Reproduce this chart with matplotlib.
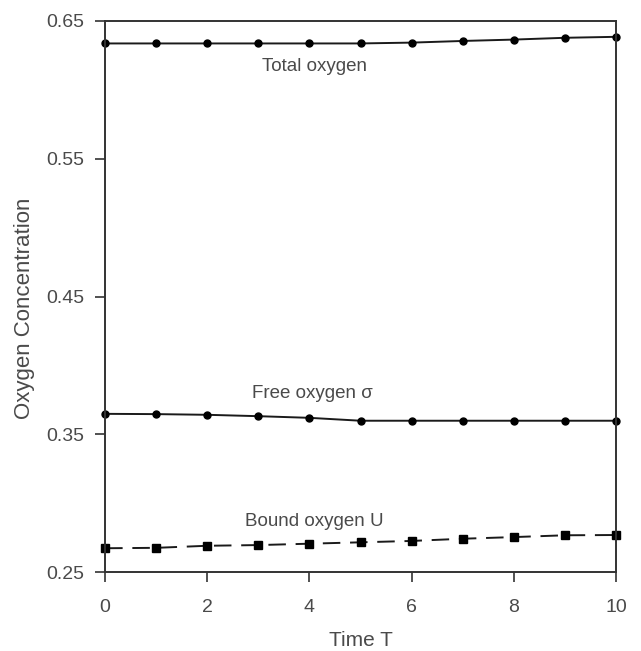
import numpy as np
import matplotlib
matplotlib.use('Agg')
import matplotlib.pyplot as plt

plt.rcParams['font.family'] = ['Liberation Sans', 'DejaVu Sans']

time_t = [0, 1, 2, 3, 4, 5, 6, 7, 8, 9, 10]
total_oxygen = [0.6336, 0.6336, 0.6336, 0.6336, 0.6336, 0.6336,
                0.6342, 0.6354, 0.6364, 0.6377, 0.6384]
free_oxygen = [0.3649, 0.3647, 0.3642, 0.3632, 0.3620, 0.3599,
               0.3599, 0.3599, 0.3599, 0.3599, 0.3599]
bound_oxygen = [0.2674, 0.2677, 0.2692, 0.2697, 0.2707, 0.2717,
                0.2727, 0.2743, 0.2755, 0.2768, 0.2770]

xticks = [0, 2, 4, 6, 8, 10]
yticks = [0.25, 0.35, 0.45, 0.55, 0.65]

txt_color = '#4a4a4a'
line_color = '#1a1a1a'

fig = plt.figure(figsize=(6.41, 6.51), dpi=100)
ax = fig.add_axes([0.164, 0.121, 0.797, 0.847])

ax.plot(time_t, total_oxygen, color=line_color, lw=1.4, marker='o',
        ms=5, mfc='black', mec='black', clip_on=False)
ax.plot(time_t, free_oxygen, color=line_color, lw=1.4, marker='o',
        ms=5, mfc='black', mec='black', clip_on=False)
ax.plot(time_t, bound_oxygen, color=line_color, lw=1.4, marker='s',
        ms=5.5, mfc='black', mec='black', dashes=(9, 5), clip_on=False)

ax.text(4.1, 0.6166, 'Total oxygen', ha='center', va='center',
        fontsize=13.5, color=txt_color)
ax.text(4.05, 0.3798, 'Free oxygen σ', ha='center', va='center',
        fontsize=13.5, color=txt_color)
ax.text(4.1, 0.2869, 'Bound oxygen U', ha='center', va='center',
        fontsize=13.5, color=txt_color)

ax.set_xlim(0, 10)
ax.set_ylim(0.25, 0.65)
ax.set_xticks(xticks)
ax.set_yticks(yticks)
ax.set_yticklabels(['%.2f' % v for v in yticks])
ax.tick_params(direction='out', length=7, width=1.2, labelsize=14,
               labelcolor=txt_color, color='#333333', pad=8)
ax.tick_params(axis='x', pad=12)
for s in ax.spines.values():
    s.set_linewidth(1.4)
    s.set_color('#333333')

ax.set_xlabel('Time T', fontsize=15, color=txt_color, va='center')
ax.set_ylabel('Oxygen Concentration', fontsize=16, color=txt_color,
              va='center')
ax.xaxis.set_label_coords(0.5, -0.124)
ax.yaxis.set_label_coords(-0.1585, 0.479)

fig.savefig('out.png', dpi=100)
